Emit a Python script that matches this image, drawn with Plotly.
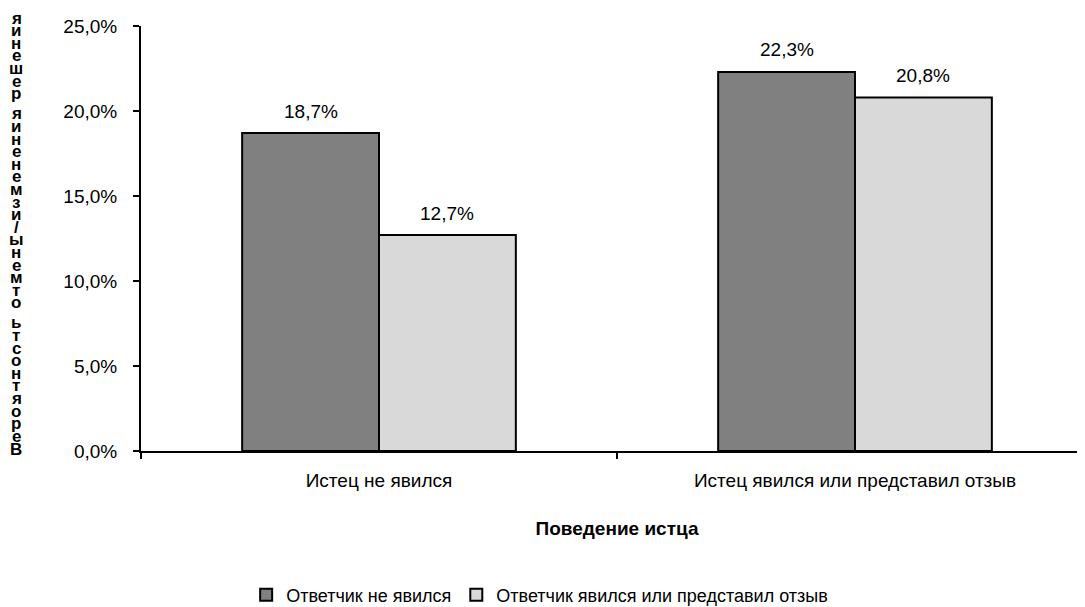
import plotly.graph_objects as go

categories = ["Истец не явился", "Истец явился или представил отзыв"]
series_names = ["Ответчик не явился", "Ответчик явился или представил отзыв"]
values_absent = [0.187, 0.223]
values_present = [0.127, 0.208]
colors = ["#808080", "#D9D9D9"]
y_title = "Вероятность отмены/изменения решения"
x_title = "Поведение истца"

W, H = 1085, 607
L, R, T, B = 133, 0, 18, 164
FONT = "Liberation Sans, Arial, sans-serif"
BARGAP = 0.425

def fmt(v):
    return f"{v*100:.1f}%".replace(".", ",")

fig = go.Figure()
for name, vals, col in zip(series_names, [values_absent, values_present], colors):
    fig.add_trace(go.Bar(
        name=name, x=categories, y=vals,
        marker=dict(color=col, line=dict(color="black", width=2)),
    ))

plot_w = W - L - R
plot_h = H - T - B
annotations = []

# value labels above bars
cat_px = plot_w / 2
bar_px = cat_px * (1 - BARGAP) / 2
for k, vals in enumerate([values_absent, values_present]):
    shift = (k - 0.5) * bar_px
    for c, v in zip(categories, vals):
        annotations.append(dict(
            x=c, y=v, xref="x", yref="y", text=fmt(v), showarrow=False,
            xshift=shift, yshift=22, xanchor="center", yanchor="middle",
            font=dict(size=19, family=FONT, color="black"),
        ))

# stacked (upright) y-axis title, bottom to top (screen px, 8px page offset)
step = 12.6
pix = 449.0
for ch in y_title:
    if ch == " ":
        pix -= step * 0.6
        continue
    annotations.append(dict(
        text=ch, xref="paper", yref="paper",
        x=(16 - 8 - L) / plot_w, y=(H - B - (pix - 8)) / plot_h,
        xanchor="center", yanchor="middle", showarrow=False,
        font=dict(size=17, family=FONT, color="black", weight="bold"),
    ))
    pix -= step

fig.update_layout(
    width=W, height=H,
    margin=dict(l=L, r=R, t=T, b=B),
    paper_bgcolor="white", plot_bgcolor="white",
    barmode="group", bargap=BARGAP, bargroupgap=0,
    separators=", ",
    font=dict(family=FONT, size=19, color="black"),
    showlegend=True,
    legend=dict(orientation="h", xref="container", yref="container",
                x=0.49, xanchor="center", y=20 / H, yanchor="middle",
                font=dict(size=18, family=FONT), itemwidth=30,
                traceorder="normal"),
    annotations=annotations,
)
fig.update_xaxes(
    type="category", range=[-0.5, 1.5],
    showline=True, linecolor="black", linewidth=2,
    ticks="outside", tickson="boundaries", ticklen=6, tickwidth=2, tickcolor="black",
    ticklabelstandoff=11, showgrid=False,
    tickfont=dict(size=19, family=FONT),
    title=dict(text=f"<b>{x_title}</b>", standoff=32, font=dict(size=19, family=FONT)),
)
fig.update_yaxes(
    range=[0, 0.25], dtick=0.05, tickformat=".1%",
    showline=True, linecolor="black", linewidth=2,
    ticks="outside", ticklen=6, tickwidth=2, tickcolor="black",
    ticklabelstandoff=12, showgrid=False, zeroline=False,
    tickfont=dict(size=19, family=FONT),
)

fig.write_html("out.html")
